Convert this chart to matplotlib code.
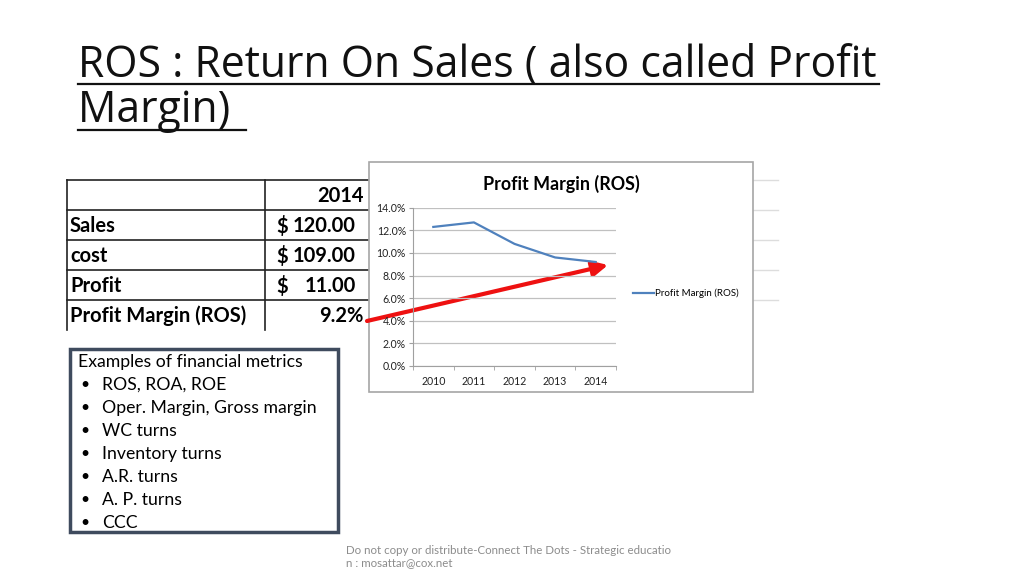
import matplotlib
matplotlib.use("Agg")
import matplotlib.pyplot as plt
from matplotlib.patches import Rectangle
from matplotlib.ticker import PercentFormatter

# ---- data ----
years = ["2010", "2011", "2012", "2013", "2014"]
ros = [12.3, 12.7, 10.8, 9.6, 9.2]
y_ticks = [0, 2, 4, 6, 8, 10, 12, 14]

table_rows = ["Sales", "cost", "Profit", "Profit Margin (ROS)"]
table_header = "2014"
table_values = ["120.00", "109.00", "11.00", "9.2%"]
table_dollar = [True, True, True, False]

bullets = ["ROS, ROA, ROE", "Oper. Margin, Gross margin", "WC turns",
           "Inventory turns", "A.R. turns", "A. P. turns", "CCC"]

W, H = 1024, 575
fig = plt.figure(figsize=(W / 100, H / 100), dpi=100)
bg = fig.add_axes([0, 0, 1, 1])
bg.set_xlim(0, W)
bg.set_ylim(H, 0)
bg.axis("off")

# ---- title ----
title_font = "Open Sans"
bg.text(78, 65, "ROS : Return On Sales ( also called Profit", fontsize=30.8,
        family=title_font, va="center", ha="left", color="#111111")
bg.text(78, 111, "Margin) ", fontsize=30.8, family=title_font,
        va="center", ha="left", color="#111111")
bg.plot([78, 879], [84, 84], color="#111111", lw=1.6)
bg.plot([78, 246], [130, 130], color="#111111", lw=1.6)

# ---- table ----
tf = "Lato"
tsize = 14.5
row_y = [180, 210, 240, 270, 300, 330]
for y in row_y[:-1]:
    bg.plot([67, 368], [y, y], color="#222222", lw=1.2)
bg.plot([67, 67], [180, 330], color="#222222", lw=1.2)
bg.plot([265, 265], [180, 330], color="#222222", lw=1.2)
# faint continuation of table behind chart
for y in row_y[:-1]:
    bg.plot([753, 778], [y, y], color="#dddddd", lw=1.0)

bg.text(364, 196, table_header, ha="right", va="center", fontsize=tsize,
        weight="bold", family=tf)
for i, (lab, val, dol) in enumerate(zip(table_rows, table_values, table_dollar)):
    yc = (row_y[i + 1] + row_y[i + 2]) / 2 + 1
    bg.text(70, yc, lab, ha="left", va="center", fontsize=tsize, weight="bold", family=tf)
    if dol:
        bg.text(276, yc, "$", ha="left", va="center", fontsize=tsize, weight="bold", family=tf)
        bg.text(356, yc, val, ha="right", va="center", fontsize=tsize, weight="bold", family=tf)
    else:
        bg.text(364, yc, val, ha="right", va="center", fontsize=tsize, weight="bold", family=tf)

# ---- chart image frame ----
bg.add_patch(Rectangle((369, 162), 384, 230, facecolor="white",
                       edgecolor="#a6a6a6", lw=1.2, zorder=2))
bg.text(561, 184, "Profit Margin (ROS)", ha="center", va="center", fontsize=12.9,
        weight="bold", family=tf, zorder=3)

x0, x1 = 413, 616
ytop, ybot = 207.7, 366
ax = fig.add_axes([x0 / W, 1 - ybot / H, (x1 - x0) / W, (ybot - ytop) / H], zorder=3)
ax.patch.set_alpha(0)
xs = list(range(len(years)))
line, = ax.plot(xs, ros, color="#4f81bd", lw=1.6, label="Profit Margin (ROS)")
ax.set_xlim(-0.5, len(years) - 0.5)
ax.set_ylim(0, 14)
ax.set_yticks(y_ticks)
ax.yaxis.set_major_formatter(PercentFormatter(decimals=1))
ax.set_xticks(xs)
ax.set_xticklabels(years)
ax.grid(axis="y", color="#c0c0c0", lw=0.9)
ax.set_axisbelow(True)
for s in ["top", "right"]:
    ax.spines[s].set_visible(False)
for s in ["left", "bottom"]:
    ax.spines[s].set_color("#a0a0a0")
ax.tick_params(axis="y", length=3, color="#a0a0a0", labelsize=7.6, pad=2)
ax.tick_params(axis="x", length=0, labelsize=7.6, pad=7)
for lab in ax.get_xticklabels() + ax.get_yticklabels():
    lab.set_family("Lato")
    lab.set_color("#222222")
ax.set_xticks([i - 0.5 for i in range(len(years) + 1)], minor=True)
ax.tick_params(axis="x", which="minor", length=3, color="#a0a0a0", direction="out")

ax.legend(handles=[line], loc="center left", bbox_to_anchor=(1.04, 0.46),
          frameon=False, handlelength=2.2, handletextpad=0.1,
          prop={"family": "Lato", "size": 7.0})

# ---- red arrow ----
bg.annotate("", xy=(608, 265), xytext=(367, 321),
            arrowprops=dict(arrowstyle="-|>,head_length=0.9,head_width=0.45",
                            color="#ee1111", lw=3.0, shrinkA=0, shrinkB=0),
            zorder=6)

# ---- text box ----
bsize = 12.7
bg.add_patch(Rectangle((70, 349), 268, 183, facecolor="white",
                       edgecolor="#3f4b5e", lw=2.5, zorder=2))
bg.text(78, 362, "Examples of financial metrics", ha="left", va="center",
        fontsize=bsize, family=tf, zorder=3)
for i, b in enumerate(bullets):
    yc = 385 + 23 * i
    bg.text(80, yc, "•", ha="left", va="center", fontsize=bsize * 0.9, family=tf, zorder=3)
    bg.text(102, yc, b, ha="left", va="center", fontsize=bsize, family=tf, zorder=3)

# ---- footer ----
bg.text(346, 550, "Do not copy or distribute-Connect The Dots - Strategic educatio",
        ha="left", va="center", fontsize=8.3, family=tf, color="#8c8c8c")
bg.text(346, 563, "n : mosattar@cox.net", ha="left", va="center", fontsize=8.3,
        family=tf, color="#8c8c8c")

fig.savefig("out.png", dpi=100)
